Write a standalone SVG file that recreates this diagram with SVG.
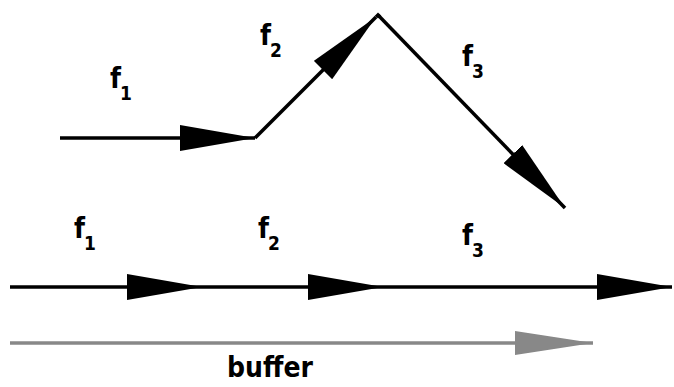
<svg xmlns="http://www.w3.org/2000/svg" width="674" height="387" viewBox="0 0 674 387">
<style>
.ln{stroke:#000;stroke-width:3.5;fill:none;marker-end:url(#ah)}
.gl{stroke:#888;stroke-width:3.5;fill:none;marker-end:url(#ahg)}
.lb{font-family:"DejaVu Sans Condensed","DejaVu Sans",sans-serif;font-stretch:condensed;font-weight:bold;font-size:28px;fill:#000}
.sb{font-size:19px}
</style>
<defs>
<marker id="ah" viewBox="0 0 75 26" refX="75" refY="13" markerWidth="75" markerHeight="26" markerUnits="userSpaceOnUse" orient="auto"><polygon points="0,0 75,13 0,26" fill="#000"/></marker>
<marker id="ahg" viewBox="0 0 78 24" refX="78" refY="12" markerWidth="78" markerHeight="24" markerUnits="userSpaceOnUse" orient="auto"><polygon points="0,0 78,12 0,24" fill="#888"/></marker>
</defs>
<rect width="674" height="387" fill="#fff"/>
<g id="connectors">
<line class="ln" x1="60" y1="138" x2="255" y2="138"/>
<line class="ln" x1="255" y1="138" x2="376" y2="17"/>
<polyline points="376,17 378,15 380,17" stroke="#000" stroke-width="3.5" fill="none"/>
<line class="ln" x1="378" y1="15" x2="565" y2="208"/>
<line class="ln" x1="10" y1="287" x2="202" y2="287"/>
<line class="ln" x1="202" y1="287" x2="383" y2="287"/>
<line class="ln" x1="383" y1="287" x2="672" y2="287"/>
<line class="gl" x1="10" y1="343" x2="593" y2="343"/>
</g>
<g id="label-top-f1"><text class="lb" x="110" y="88">f<tspan class="sb" dx="-1" dy="12">1</tspan></text></g>
<g id="label-top-f2"><text class="lb" x="260" y="45">f<tspan class="sb" dx="-1" dy="12">2</tspan></text></g>
<g id="label-top-f3"><text class="lb" x="462" y="66">f<tspan class="sb" dx="-1" dy="12">3</tspan></text></g>
<g id="label-bot-f1"><text class="lb" x="74" y="238">f<tspan class="sb" dx="-1" dy="12">1</tspan></text></g>
<g id="label-bot-f2"><text class="lb" x="258" y="238">f<tspan class="sb" dx="-1" dy="12">2</tspan></text></g>
<g id="label-bot-f3"><text class="lb" x="462" y="245">f<tspan class="sb" dx="-1" dy="12">3</tspan></text></g>
<g id="label-buffer"><text class="lb" x="270" y="377" text-anchor="middle">buffer</text></g>
</svg>
